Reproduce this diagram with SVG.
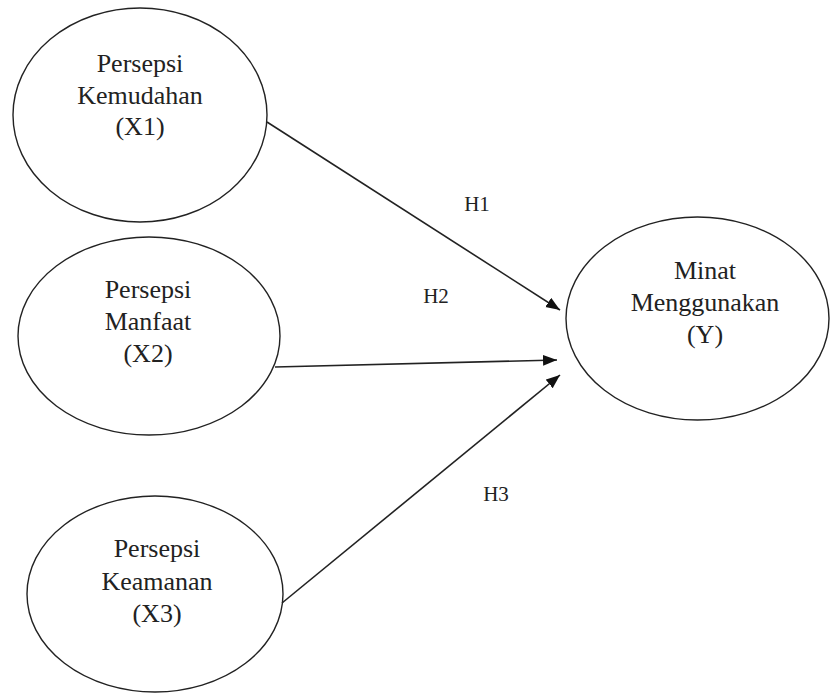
<svg xmlns="http://www.w3.org/2000/svg" width="831" height="693" viewBox="0 0 831 693">
<style>
.node ellipse{fill:#fff;stroke:#222;stroke-width:1.4}
.node text{font-family:"Liberation Serif","Times New Roman",serif;font-size:26px;fill:#222;text-anchor:middle}
.lbl{font-family:"Liberation Serif","Times New Roman",serif;font-size:21px;fill:#222;text-anchor:middle}
#connectors line{stroke:#222;stroke-width:1.6;marker-end:url(#arr)}
</style>
<defs>
<marker id="arr" markerUnits="userSpaceOnUse" markerWidth="15" markerHeight="12" refX="14" refY="5.5" orient="auto">
<path d="M0,0 L14,5.5 L0,11 z" fill="#111"/>
</marker>
</defs>
<rect width="831" height="693" fill="#fff"/>
<g id="x1" class="node">
<ellipse cx="140" cy="115" rx="127" ry="107"/>
<text x="140" y="72">Persepsi</text>
<text x="140" y="104">Kemudahan</text>
<text x="140" y="135">(X1)</text>
</g>
<g id="x2" class="node">
<ellipse cx="149" cy="336" rx="131" ry="99"/>
<text x="148" y="298">Persepsi</text>
<text x="148" y="330">Manfaat</text>
<text x="148" y="362">(X2)</text>
</g>
<g id="x3" class="node">
<ellipse cx="155" cy="594" rx="128" ry="98"/>
<text x="157" y="557">Persepsi</text>
<text x="157" y="590">Keamanan</text>
<text x="157" y="622">(X3)</text>
</g>
<g id="y" class="node">
<ellipse cx="697.5" cy="318.5" rx="131.5" ry="101.5"/>
<text x="705" y="279">Minat</text>
<text x="705" y="311">Menggunakan</text>
<text x="705" y="343">(Y)</text>
</g>
<g id="connectors">
<line x1="267" y1="122" x2="560" y2="310"/>
<line x1="275" y1="367" x2="557" y2="360"/>
<line x1="282" y1="603" x2="560" y2="375"/>
</g>
<g id="labels">
<text class="lbl" x="477" y="211">H1</text>
<text class="lbl" x="436" y="303">H2</text>
<text class="lbl" x="496" y="501">H3</text>
</g>
</svg>
